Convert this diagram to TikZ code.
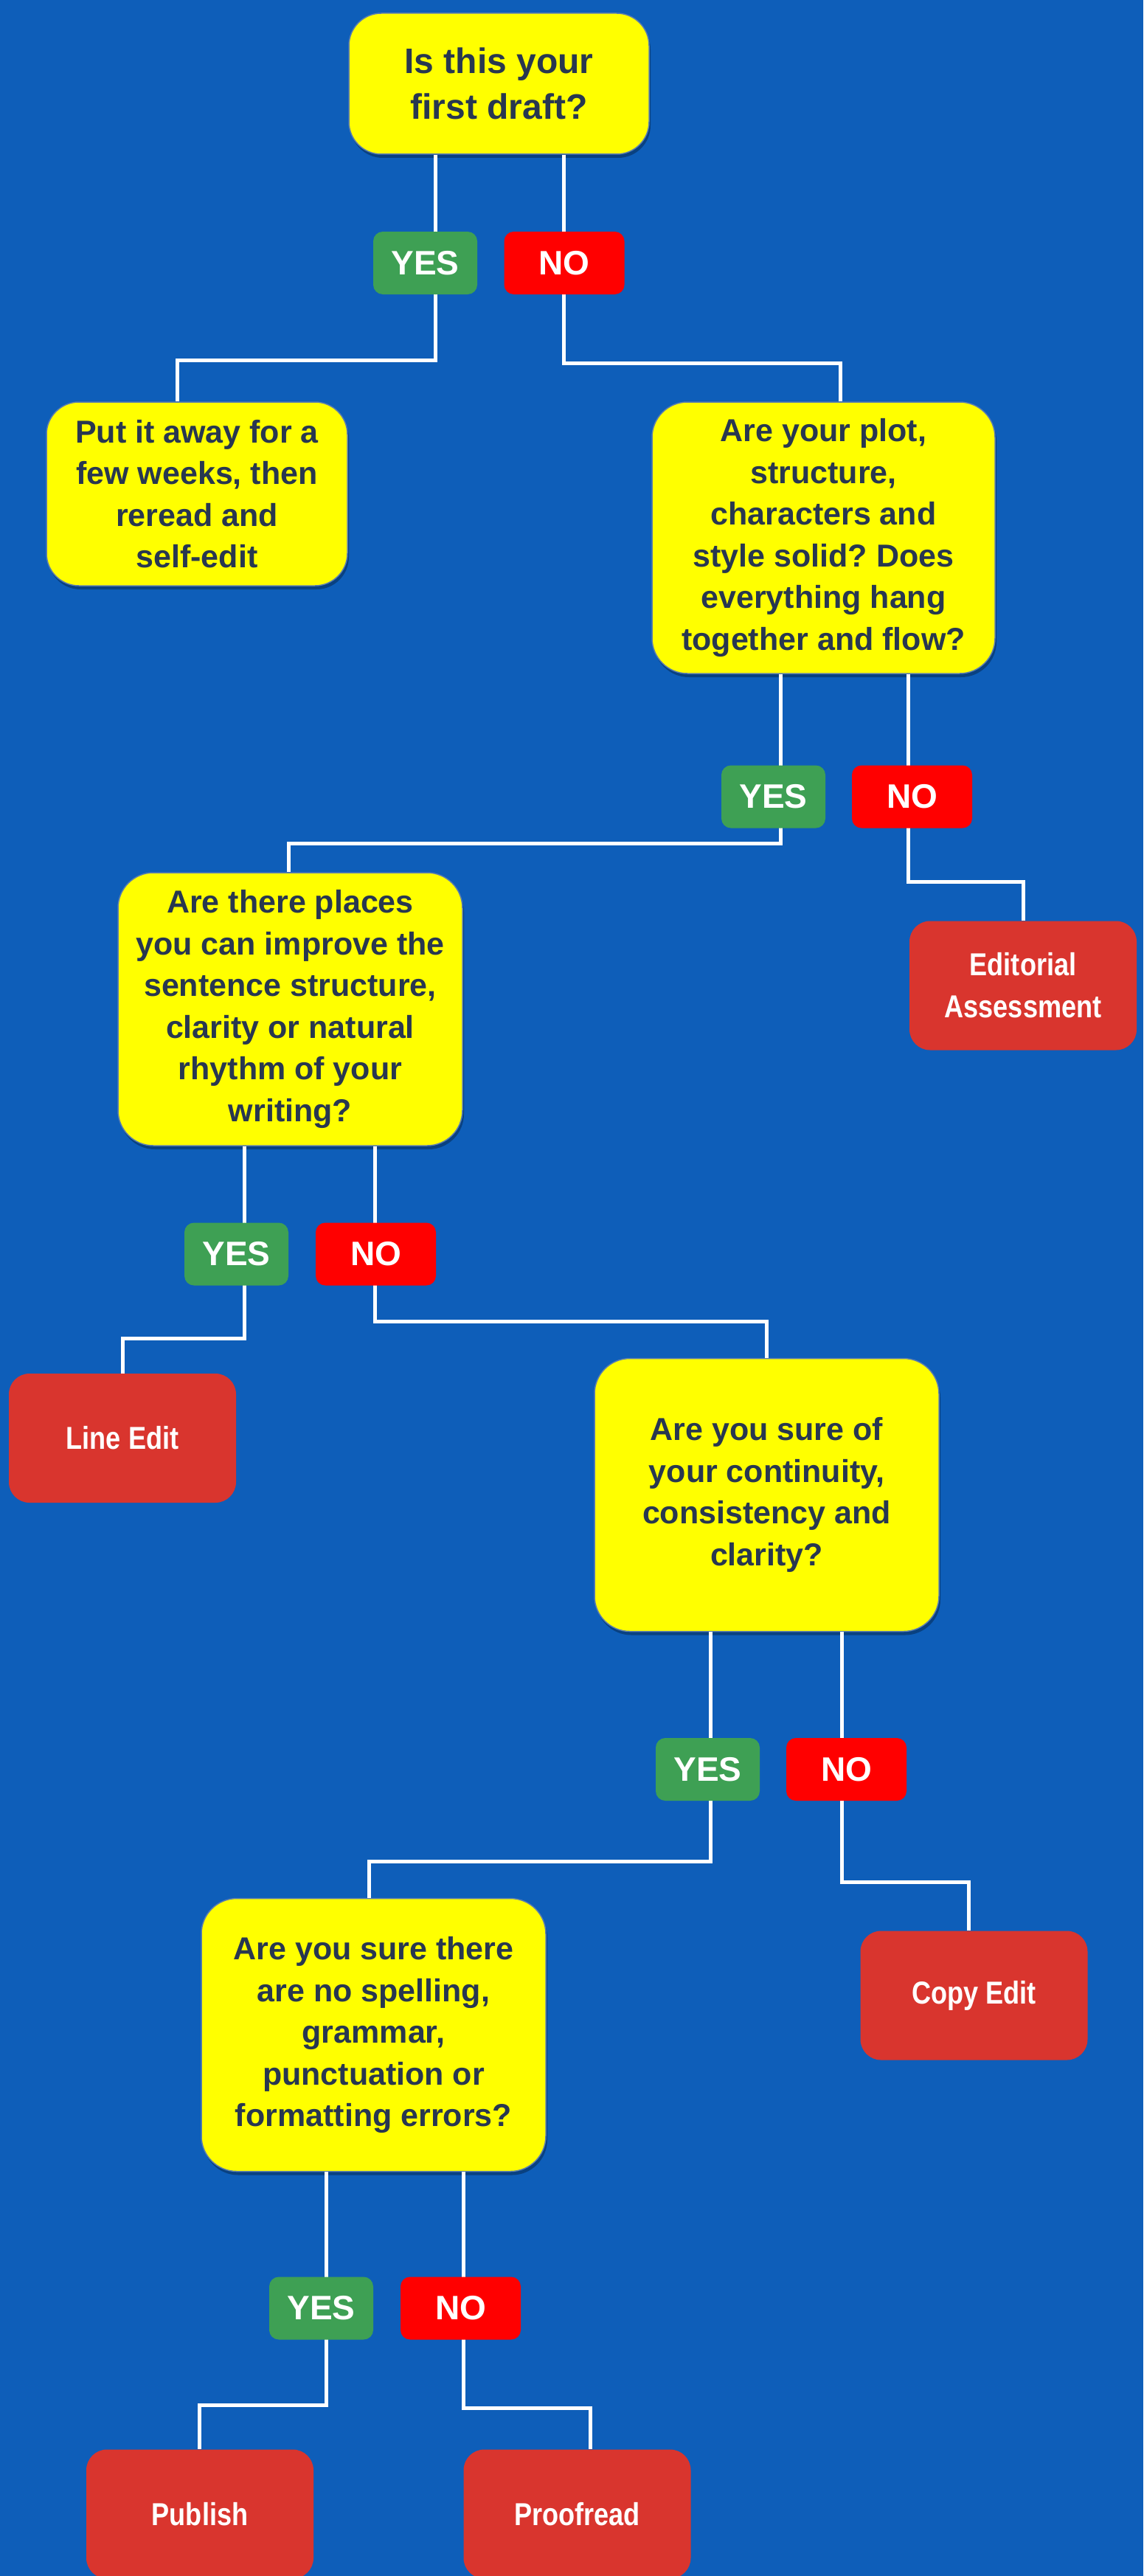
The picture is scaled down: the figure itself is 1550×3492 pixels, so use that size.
\documentclass[tikz,border=0pt]{standalone}
\usepackage{fontspec}
\setmainfont{Liberation Sans}
\newfontfamily\termfont[FakeStretch=0.84]{Liberation Sans}
\usetikzlibrary{shadows,positioning}
\definecolor{flowblue}{RGB}{14,94,185}
\definecolor{askyellow}{RGB}{255,255,0}
\definecolor{asktext}{RGB}{40,55,80}
\definecolor{askedge}{RGB}{90,125,175}
\definecolor{yesgreen}{RGB}{62,160,84}
\definecolor{nored}{RGB}{255,0,0}
\definecolor{endred}{RGB}{217,53,46}
\frenchspacing

\begin{document}
\begin{tikzpicture}[x=1pt,y=-1pt,
  question/.style={rectangle,rounded corners=48pt,fill=askyellow,draw=askedge,line width=1.5pt,text=asktext,align=center,inner sep=0pt,minimum width=467pt,minimum height=370pt,drop shadow={shadow xshift=2pt,shadow yshift=-5pt,opacity=0.3,fill=black},font=\fontsize{43}{56.5}\selectfont\bfseries},
  ending/.style={rectangle,rounded corners=28pt,fill=endred,text=white,align=center,inner sep=0pt,minimum width=308pt,minimum height=175pt,font=\fontsize{43}{57}\selectfont\termfont\bfseries},
  yestag/.style={rectangle,rounded corners=13pt,fill=yesgreen,text=white,inner sep=0pt,minimum width=141pt,minimum height=85pt,font=\fontsize{46}{50}\selectfont\bfseries},
  notag/.style={yestag,fill=nored,minimum width=163pt},
  wire/.style={draw=white,line width=5pt}]
\useasboundingbox (0,0) rectangle (1550,3492);
\clip (0,0) rectangle (1550,3492);
\fill[flowblue] (0,0) rectangle (1550,3492);

% questions
\node[question,minimum width=407pt,minimum height=191pt,rounded corners=44pt,font=\fontsize{48}{62}\selectfont\bfseries] (Q1) at (676.5,113.5) {Is this your\\first draft?};
\node[question,minimum width=408pt,minimum height=249pt,rounded corners=44pt] (away) at (267,669.5) {Put it away for a\\few weeks, then\\reread and\\self-edit};
\node[question,minimum width=465pt,minimum height=368pt] (Q2) at (1116.5,729) {Are your plot,\\structure,\\characters and\\style solid? Does\\everything hang\\together and flow?};
\node[question] (Q3) at (393.5,1368) {Are there places\\you can improve the\\sentence structure,\\clarity or natural\\rhythm of your\\writing?};
\node[question] (Q4) at (1039.5,2026.5) {Are you sure of\\your continuity,\\consistency and\\clarity?};
\node[question] (Q5) at (506.5,2758.5) {Are you sure there\\are no spelling,\\grammar,\\punctuation or\\formatting errors?};

% outcomes
\node[ending] (assess) at (1387,1336) {Editorial\\Assessment};
\node[ending] (lineedit) at (166,1949.5) {Line Edit};
\node[ending] (copyedit) at (1320.5,2705) {Copy Edit};
\node[ending] (publish) at (271,3408) {Publish};
\node[ending] (proofread) at (782.5,3408) {Proofread};

% connectors
\draw[wire] ([xshift=-86.5pt]Q1.south) -- ++(0,-279pt) -| ([xshift=-27pt]away.north);
\draw[wire] ([xshift=87.5pt]Q1.south) -- ++(0,-283pt) -| ([xshift=22.5pt]Q2.north);
\draw[wire] ([xshift=-58.5pt]Q2.south) -- ++(0,-230pt) -| ([xshift=-2.5pt]Q3.north);
\draw[wire] ([xshift=114.5pt]Q2.south) -- ++(0,-282pt) -| (assess.north);
\draw[wire] ([xshift=-62.5pt]Q3.south) -- ++(0,-261pt) -| (lineedit.north);
\draw[wire] ([xshift=114.5pt]Q3.south) -- ++(0,-238pt) -| (Q4.north);
\draw[wire] ([xshift=-76.5pt]Q4.south) -- ++(0,-311pt) -| ([xshift=-6.5pt]Q5.north);
\draw[wire] ([xshift=101.5pt]Q4.south) -- ++(0,-339pt) -| ([xshift=-7.5pt]copyedit.north);
\draw[wire] ([xshift=-64.5pt]Q5.south) -- ++(0,-316pt) -| ([xshift=-1pt]publish.north);
\draw[wire] ([xshift=121.5pt]Q5.south) -- ++(0,-320pt) -| ([xshift=17.5pt]proofread.north);

% answers
\node[yestag] (yes1) at (576.5,356.5) {YES};
\node[notag] (no1) at (765,356.5) {NO};
\node[yestag] (yes2) at (1048.5,1080) {YES};
\node[notag] (no2) at (1236.5,1080) {NO};
\node[yestag] (yes3) at (320.5,1700) {YES};
\node[notag] (no3) at (509.5,1700) {NO};
\node[yestag] (yes4) at (959.5,2398.5) {YES};
\node[notag] (no4) at (1147.5,2398.5) {NO};
\node[yestag] (yes5) at (435.5,3129) {YES};
\node[notag] (no5) at (624.5,3129) {NO};
\end{tikzpicture}
\end{document}
